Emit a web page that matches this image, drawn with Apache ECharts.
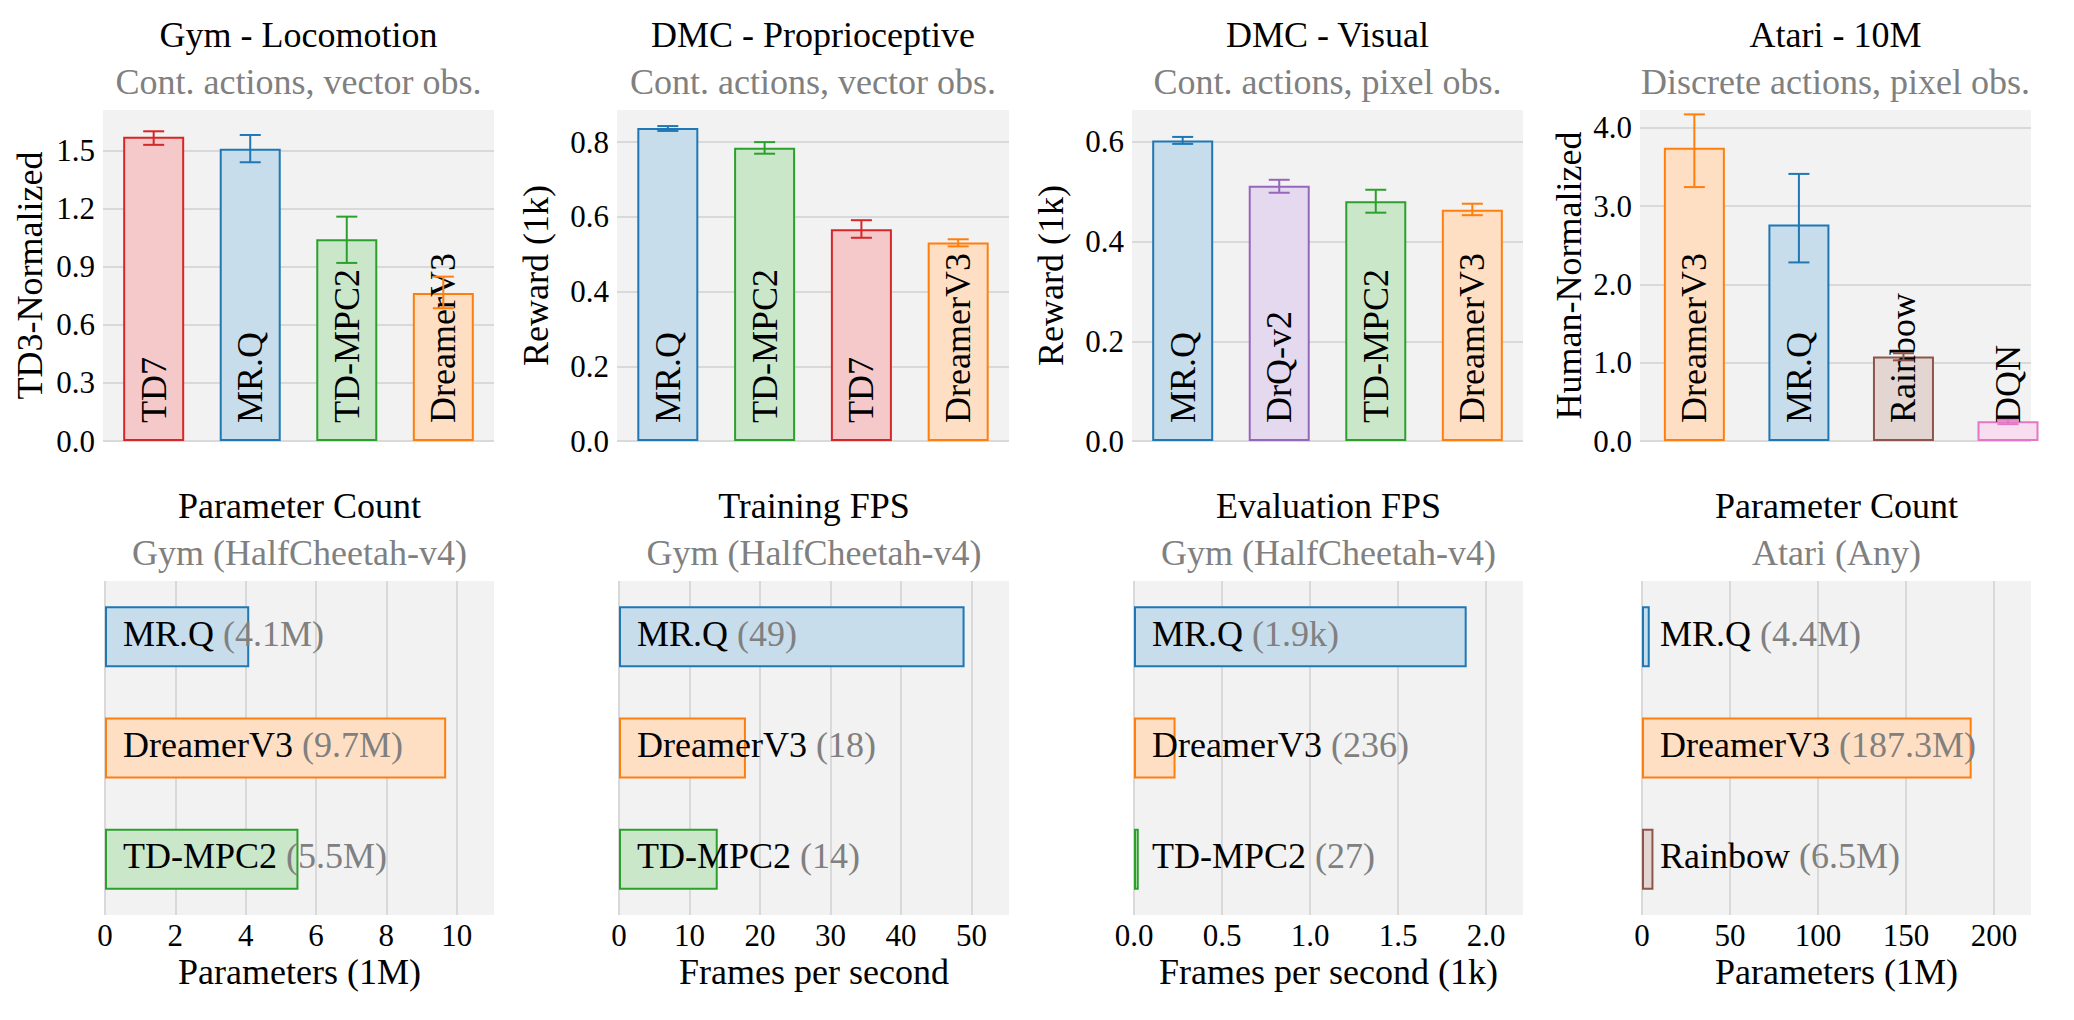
<!DOCTYPE html>
<html>
<head>
<meta charset="utf-8">
<script src="https://cdn.jsdelivr.net/npm/echarts@6/dist/echarts.min.js"></script>
<style>
html,body{margin:0;padding:0;background:#fff;}
#c{width:2074px;height:1020px;}
</style>
</head>
<body>
<div id="c"></div>
<script>
// ---------- data ----------
const gymCats = ['TD7', 'MR.Q', 'TD-MPC2', 'DreamerV3'];
const gymVals = [1.572, 1.51, 1.042, 0.765];
const gymLow = [1.53, 1.44, 0.92, 0.686];
const gymHigh = [1.60, 1.581, 1.159, 0.849];

const dmcpCats = ['MR.Q', 'TD-MPC2', 'TD7', 'DreamerV3'];
const dmcpVals = [0.838, 0.785, 0.567, 0.531];
const dmcpLow = [0.830, 0.769, 0.544, 0.521];
const dmcpHigh = [0.843, 0.800, 0.591, 0.540];

const dmcvCats = ['MR.Q', 'DrQ-v2', 'TD-MPC2', 'DreamerV3'];
const dmcvVals = [0.603, 0.512, 0.481, 0.464];
const dmcvLow = [0.596, 0.498, 0.458, 0.453];
const dmcvHigh = [0.610, 0.524, 0.504, 0.476];

const atariCats = ['DreamerV3', 'MR.Q', 'Rainbow', 'DQN'];
const atariVals = [3.745, 2.765, 1.078, 0.252];
const atariLow = [3.242, 2.28, 1.03, 0.215];
const atariHigh = [4.17, 3.41, 1.12, 0.27];

const gymParamCats = ['MR.Q', 'DreamerV3', 'TD-MPC2'];
const gymParamVals = [4.1, 9.7, 5.5];
const gymParamLabels = ['4.1M', '9.7M', '5.5M'];

const trainFpsCats = ['MR.Q', 'DreamerV3', 'TD-MPC2'];
const trainFpsVals = [49, 18, 14];
const trainFpsLabels = ['49', '18', '14'];

const evalFpsCats = ['MR.Q', 'DreamerV3', 'TD-MPC2'];
const evalFpsVals = [1.89, 0.236, 0.027];
const evalFpsLabels = ['1.9k', '236', '27'];

const atariParamCats = ['MR.Q', 'DreamerV3', 'Rainbow'];
const atariParamVals = [4.4, 187.3, 6.5];
const atariParamLabels = ['4.4M', '187.3M', '6.5M'];

const topTitles = ['Gym - Locomotion', 'DMC - Proprioceptive', 'DMC - Visual', 'Atari - 10M'];
const topSubtitles = ['Cont. actions, vector obs.', 'Cont. actions, vector obs.', 'Cont. actions, pixel obs.', 'Discrete actions, pixel obs.'];
const topYNames = ['TD3-Normalized', 'Reward (1k)', 'Reward (1k)', 'Human-Normalized'];
const botTitles = ['Parameter Count', 'Training FPS', 'Evaluation FPS', 'Parameter Count'];
const botSubtitles = ['Gym (HalfCheetah-v4)', 'Gym (HalfCheetah-v4)', 'Gym (HalfCheetah-v4)', 'Atari (Any)'];
const botXNames = ['Parameters (1M)', 'Frames per second', 'Frames per second (1k)', 'Parameters (1M)'];

// ---------- styling ----------
const FONT = 'Liberation Serif';
const edge = {
  'MR.Q': '#1f77b4', 'DreamerV3': '#ff7f0e', 'TD-MPC2': '#2ca02c', 'TD7': '#d62728',
  'DrQ-v2': '#9467bd', 'Rainbow': '#8c564b', 'DQN': '#e377c2'
};
const fill = {
  'MR.Q': '#c7ddec', 'DreamerV3': '#ffdfc3', 'TD-MPC2': '#cae7ca', 'TD7': '#f5c9c9',
  'DrQ-v2': '#e4d9ee', 'Rainbow': '#e2d5d2', 'DQN': '#f8ddf0'
};
const GRID_BG = '#f2f2f2';
const GRID_LINE = '#d9d9d9';

const topGrids = [
  {left: 103, top: 110, width: 391, height: 331},
  {left: 617, top: 110, width: 392, height: 331},
  {left: 1132, top: 110, width: 391, height: 331},
  {left: 1640, top: 110, width: 391, height: 331}
];
const topAxes = [
  {xmin: -0.525, xmax: 3.525, ymax: 1.71, interval: 0.3, nameGap: 55},
  {xmin: -0.525, xmax: 3.525, ymax: 0.886, interval: 0.2, nameGap: 63},
  {xmin: -0.525, xmax: 3.525, ymax: 0.664, interval: 0.2, nameGap: 63},
  {xmin: -0.52, xmax: 3.22, ymax: 4.226, interval: 1, nameGap: 53}
];
const botGrids = [
  {left: 105, top: 581, width: 389, height: 334},
  {left: 619, top: 581, width: 390, height: 334},
  {left: 1134, top: 581, width: 389, height: 334},
  {left: 1642, top: 581, width: 389, height: 334}
];
const botAxes = [
  {max: 11.06, interval: 2, dec: 0},
  {max: 55.3, interval: 10, dec: 0},
  {max: 2.21, interval: 0.5, dec: 1},
  {max: 221, interval: 50, dec: 0}
];

const topData = [
  [gymCats, gymVals, gymLow, gymHigh],
  [dmcpCats, dmcpVals, dmcpLow, dmcpHigh],
  [dmcvCats, dmcvVals, dmcvLow, dmcvHigh],
  [atariCats, atariVals, atariLow, atariHigh]
];
const botData = [
  [gymParamCats, gymParamVals, gymParamLabels],
  [trainFpsCats, trainFpsVals, trainFpsLabels],
  [evalFpsCats, evalFpsVals, evalFpsLabels],
  [atariParamCats, atariParamVals, atariParamLabels]
];

const grid = [], xAxis = [], yAxis = [], series = [], graphic = [];

function errRender(params, api) {
  const x = api.value(0), lo = api.value(1), hi = api.value(2);
  const pLo = api.coord([x, lo]);
  const pHi = api.coord([x, hi]);
  const hw = 10.5;
  const style = {stroke: api.visual('color'), lineWidth: 2, fill: null};
  return {
    type: 'group',
    children: [
      {type: 'line', shape: {x1: pLo[0], y1: pLo[1], x2: pHi[0], y2: pHi[1]}, style: style},
      {type: 'line', shape: {x1: pHi[0] - hw, y1: pHi[1], x2: pHi[0] + hw, y2: pHi[1]}, style: style},
      {type: 'line', shape: {x1: pLo[0] - hw, y1: pLo[1], x2: pLo[0] + hw, y2: pLo[1]}, style: style}
    ]
  };
}

// top panels
topData.forEach((d, k) => {
  const [cats, vals, low, high] = d;
  const g = topGrids[k], a = topAxes[k];
  grid.push(Object.assign({show: true, backgroundColor: GRID_BG, borderWidth: 0}, g));
  xAxis.push({
    gridIndex: k, type: 'value', min: a.xmin, max: a.xmax,
    axisLine: {show: false}, axisTick: {show: false}, axisLabel: {show: false}, splitLine: {show: false}
  });
  yAxis.push({
    gridIndex: k, type: 'value', min: 0, max: a.ymax, interval: a.interval,
    name: topYNames[k], nameLocation: 'middle', nameRotate: 90, nameGap: a.nameGap,
    nameTextStyle: {fontFamily: FONT, fontSize: 36, color: '#000'},
    axisLine: {show: false}, axisTick: {show: false},
    axisLabel: {fontFamily: FONT, fontSize: 31, color: '#000', margin: 8, showMaxLabel: false,
      formatter: v => v.toFixed(1)},
    splitLine: {show: true, showMaxLine: false, lineStyle: {color: GRID_LINE, width: 2}}
  });
  series.push({
    type: 'bar', xAxisIndex: k, yAxisIndex: k, barWidth: 61, clip: true,
    data: cats.map((c, i) => ({
      name: c, value: [i, vals[i]],
      itemStyle: {color: fill[c], borderColor: edge[c], borderWidth: 2}
    })),
    label: {
      show: true, position: 'insideBottom', distance: 18, rotate: 90,
      align: 'left', verticalAlign: 'middle',
      fontFamily: FONT, fontSize: 36, color: '#000',
      formatter: p => p.name
    },
    z: 2
  });
  series.push({
    type: 'custom', xAxisIndex: k, yAxisIndex: k, renderItem: errRender,
    data: cats.map((c, i) => ({value: [i, low[i], high[i]], itemStyle: {color: edge[c]}})),
    z: 5
  });
  const cx = g.left + g.width / 2;
  graphic.push({type: 'text', x: cx, y: 35, style: {text: topTitles[k], fontFamily: FONT, fontSize: 36, fill: '#000', align: 'center', verticalAlign: 'middle'}});
  graphic.push({type: 'text', x: cx, y: 82, style: {text: topSubtitles[k], fontFamily: FONT, fontSize: 36, fill: '#808080', align: 'center', verticalAlign: 'middle'}});
});

// bottom panels
botData.forEach((d, j) => {
  const [cats, vals, labels] = d;
  const k = j + 4;
  const g = botGrids[j], a = botAxes[j];
  grid.push(Object.assign({show: true, backgroundColor: GRID_BG, borderWidth: 0}, g));
  xAxis.push({
    gridIndex: k, type: 'value', min: 0, max: a.max, interval: a.interval,
    name: botXNames[j], nameLocation: 'middle', nameGap: 39,
    nameTextStyle: {fontFamily: FONT, fontSize: 36, color: '#000'},
    axisLine: {show: false}, axisTick: {show: false},
    axisLabel: {fontFamily: FONT, fontSize: 31, color: '#000', margin: 5, showMaxLabel: false,
      formatter: v => v.toFixed(a.dec)},
    splitLine: {show: true, showMaxLine: false, lineStyle: {color: GRID_LINE, width: 2}}
  });
  yAxis.push({
    gridIndex: k, type: 'category', data: cats, inverse: true,
    axisLine: {show: false}, axisTick: {show: false}, axisLabel: {show: false}, splitLine: {show: false}
  });
  series.push({
    type: 'bar', xAxisIndex: k, yAxisIndex: k, barWidth: 61,
    data: cats.map((c, i) => ({
      name: c, value: vals[i],
      itemStyle: {color: fill[c], borderColor: edge[c], borderWidth: 2}
    })),
    label: {
      show: true, position: 'insideLeft', distance: 18, offset: [0, -3],
      fontFamily: FONT, fontSize: 36,
      formatter: p => '{a|' + p.name + '} {b|(' + labels[p.dataIndex] + ')}',
      rich: {
        a: {fontFamily: FONT, fontSize: 36, color: '#000'},
        b: {fontFamily: FONT, fontSize: 36, color: '#808080'}
      }
    }
  });
  const cx = g.left + g.width / 2;
  graphic.push({type: 'text', x: cx, y: 506, style: {text: botTitles[j], fontFamily: FONT, fontSize: 36, fill: '#000', align: 'center', verticalAlign: 'middle'}});
  graphic.push({type: 'text', x: cx, y: 553, style: {text: botSubtitles[j], fontFamily: FONT, fontSize: 36, fill: '#808080', align: 'center', verticalAlign: 'middle'}});
});

const chart = echarts.init(document.getElementById('c'), null, {renderer: 'svg'});
chart.setOption({
  backgroundColor: '#fff',
  animation: false,
  grid: grid, xAxis: xAxis, yAxis: yAxis, series: series, graphic: graphic
});
</script>
</body>
</html>
